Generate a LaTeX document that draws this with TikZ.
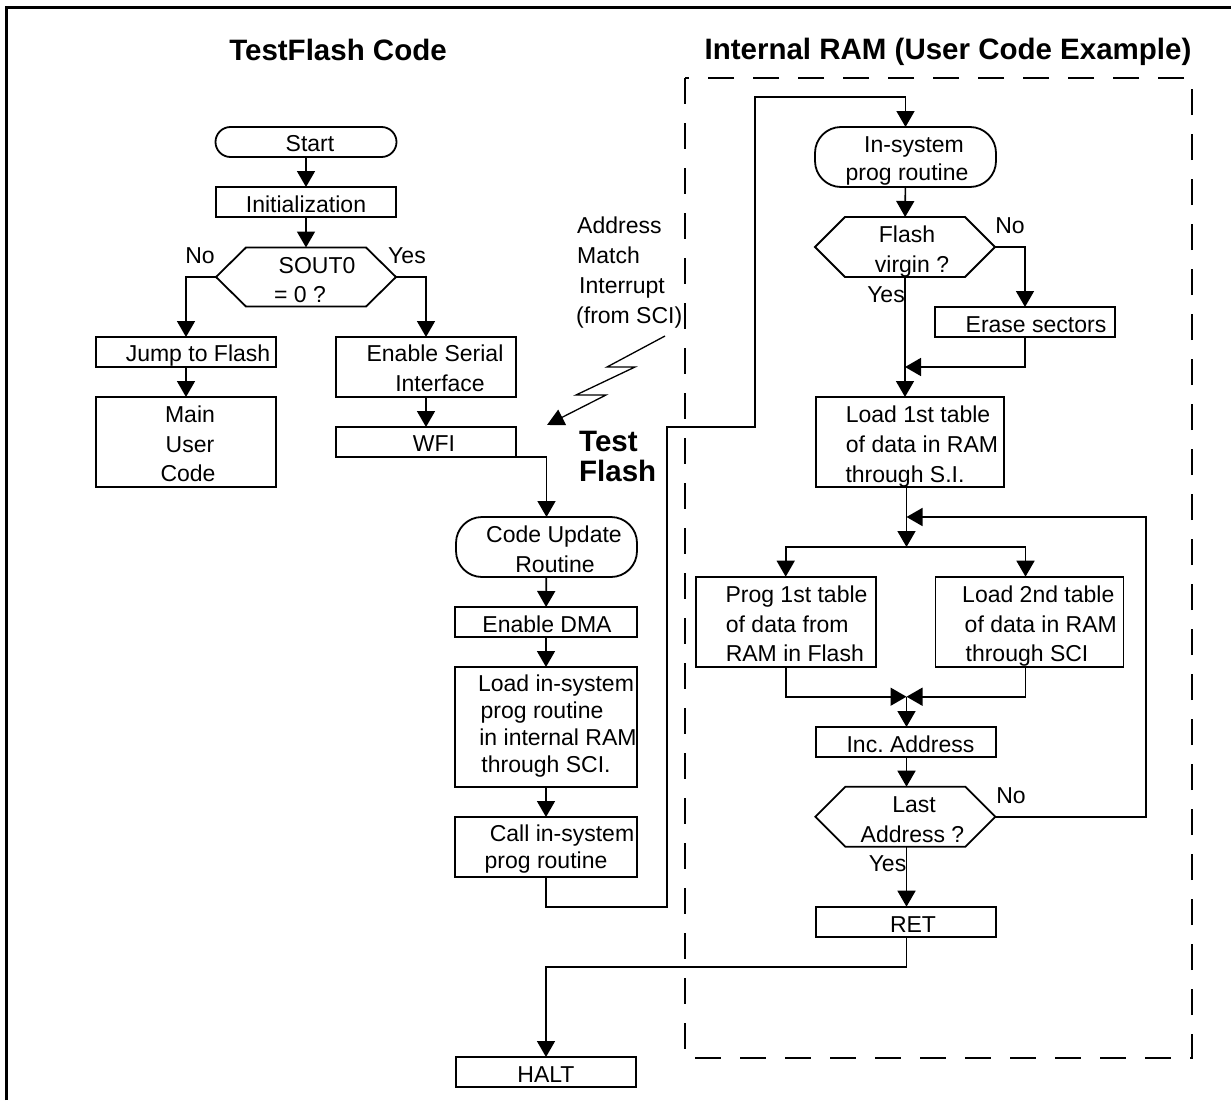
\documentclass[tikz,border=0pt]{standalone}
\usepackage{fontspec}
\setmainfont{Liberation Sans}
\usetikzlibrary{arrows.meta}
\newcommand\hexdraw[1]{\draw[line width=1.8pt] (#1.west) -- ([xshift=30pt]#1.north west) -- ([xshift=-30pt]#1.north east) -- (#1.east) -- ([xshift=-30pt]#1.south east) -- ([xshift=30pt]#1.south west) -- cycle;}
\begin{document}
\begin{tikzpicture}[x=1pt,y=-1pt,
  bx/.style={draw, line width=1.8pt, inner sep=0pt, outer sep=0pt},
  term/.style={bx, rounded corners=#1},
  hx/.style={inner sep=0pt, outer sep=0pt},
  arr/.style={line width=1.6pt, -{Triangle[length=16pt,width=18pt]}},
  bolt/.style={line width=1.3pt, -{Triangle[length=17pt,width=17pt]}},
  t/.style={inner sep=0pt, anchor=base, font=\fontsize{23}{27}\selectfont},
  tl/.style={inner sep=0pt, anchor=base west, font=\fontsize{23}{27}\selectfont},
  ttl/.style={inner sep=0pt, anchor=base, font=\fontsize{29.5}{34}\selectfont\bfseries},
  ttlw/.style={inner sep=0pt, anchor=base west, font=\fontsize{29.5}{34}\selectfont\bfseries}]
\useasboundingbox (0,0) rectangle (1231,1100);
% outer frame
\draw[line width=2.5pt] (6.5,1100) -- (6.5,7.5) -- (1231,7.5);
% dashed region
\draw[line width=2pt, dash pattern=on 26pt off 19pt] (685,78) rectangle (1192,1058);
% titles
\node[ttl] (t1) at (338,60) {TestFlash Code};
\node[ttl] (t2) at (948,59) {Internal RAM (User Code Example)};

% ---------------- left column
\node[term=15pt, minimum width=181, minimum height=30] (start) at (306,142) {};
\node[t] at (310,151) {Start};
\node[bx, minimum width=180, minimum height=30] (init) at (306,202) {};
\node[t] at (306,212) {Initialization};
\node[hx, minimum width=180, minimum height=59] (sout) at (306,277) {};
\hexdraw{sout}
\node[t] at (317,273) {SOUT0};
\node[t] at (300,302) {= 0 ?};
\node[t] at (200,263) {No};
\node[t] at (407,263) {Yes};
\node[bx, minimum width=180, minimum height=30] (jump) at (186,352) {};
\node[t] at (198,361) {Jump to Flash};
\node[bx, minimum width=180, minimum height=90] (main) at (186,442) {};
\node[t] at (190,422) {Main};
\node[t] at (190,452) {User};
\node[t] at (188,481) {Code};
\node[bx, minimum width=180, minimum height=60] (ens) at (426,367) {};
\node[t] at (435,361) {Enable Serial};
\node[t] at (440,391) {Interface};
\node[bx, minimum width=180, minimum height=30] (wfi) at (426,442) {};
\node[t] at (434,451) {WFI};

\draw[arr] (start) -- (init);
\draw[arr] (init) -- (sout);
\draw[arr] (sout.west) -| (jump.north);
\draw[arr] (sout.east) -| (ens.north);
\draw[arr] (jump) -- (main);
\draw[arr] (ens) -- (wfi);

% ---------------- interrupt
\node[tl] at (577,233) {Address};
\node[tl] at (577,263) {Match};
\node[tl] at (579,293) {Interrupt};
\node[tl] at (576,323) {(from SCI)};
\coordinate (bs) at (665,336);
\coordinate (be) at (547,425);
\draw[bolt] (bs) -- (607,367) -- (635,367) -- (576,395) -- (606,395) -- (be);
\node[ttlw] at (579,451) {Test};
\node[ttlw] at (579,481) {Flash};

% ---------------- middle column
\node[term=26pt, minimum width=181, minimum height=60] (cu) at (546.5,547) {};
\node[t] at (554,542) {Code Update};
\node[t] at (555,572) {Routine};
\node[bx, minimum width=182, minimum height=30] (dma) at (546,622) {};
\node[t] at (547,632) {Enable DMA};
\node[bx, minimum width=182, minimum height=120] (lis) at (546,727) {};
\node[t] at (556,691) {Load in-system};
\node[t] at (542,718) {prog routine};
\node[t] at (558,745) {in internal RAM};
\node[t] at (546,772) {through SCI.};
\node[bx, minimum width=182, minimum height=60] (call) at (546,847) {};
\node[t] at (562,841) {Call in-system};
\node[t] at (546,868) {prog routine};
\node[bx, minimum width=180, minimum height=30] (halt) at (546,1072) {};
\node[t] at (546,1082) {HALT};

\draw[arr] (wfi.south east) -| (cu.north);
\draw[arr] (cu) -- (dma);
\draw[arr] (dma) -- (lis);
\draw[arr] (lis) -- (call);

% ---------------- right column
\node[term=26pt, minimum width=181, minimum height=60] (isys) at (905.5,157) {};
\node[t] at (914,152) {In-system};
\node[t] at (907,180) {prog routine};
\node[hx, minimum width=180, minimum height=60] (virg) at (905,247) {};
\hexdraw{virg}
\node[t] at (907,242) {Flash};
\node[t] at (912,272) {virgin ?};
\node[t] at (1010,233) {No};
\node[t] at (886,302) {Yes};
\node[bx, minimum width=180, minimum height=30] (erase) at (1025,322) {};
\node[t] at (1036,332) {Erase sectors};
\node[bx, minimum width=188, minimum height=90] (load1) at (910,442) {};
\node[t] at (918,422) {Load 1st table};
\node[t] at (922,452) {of data in RAM};
\node[t] at (905,482) {through S.I.};
\node[bx, minimum width=180, minimum height=90] (prog) at (785.7,621.7) {};
\node[t] at (796.5,602) {Prog 1st table};
\node[t] at (787.3,632) {of data from};
\node[t] at (794.8,661) {RAM in Flash};
\node[bx, minimum width=188, minimum height=90] (load2) at (1029.5,621.7) {};
\node[t] at (1038.3,602) {Load 2nd table};
\node[t] at (1040.8,632) {of data in RAM};
\node[t] at (1027,661) {through SCI};
\node[bx, minimum width=180, minimum height=30] (inc) at (906,742) {};
\node[t] at (910.5,752) {Inc.\ Address};
\node[hx, minimum width=180, minimum height=60] (last) at (905.4,816.7) {};
\hexdraw{last}
\node[t] at (914,812) {Last};
\node[t] at (912.5,842) {Address ?};
\node[t] at (1011,803) {No};
\node[t] at (887.5,871) {Yes};
\node[bx, minimum width=180, minimum height=30] (ret) at (906,921.7) {};
\node[t] at (913,932) {RET};

\coordinate (j1) at (905,367);
\coordinate (j2) at (906.5,517);
\coordinate (split) at (906.5,547);
\coordinate (mrg) at (906.5,696.7);

\draw[arr] (call.south) -- (546,907) -| (667,427) -| (755,97) -| (isys.north);
\draw[arr] (isys) -- (virg);
\draw[arr] (virg.east) -| (erase.north);
\draw[arr] (virg.south) -- (virg.south |- load1.north);
\draw[arr] (erase.south) |- (j1);
\draw[arr] (j2 |- load1.south) -- (split);
\draw[arr] (split) -| (prog.north);
\draw[arr] (split) -| ([xshift=-4pt]load2.north);
\draw[arr] (prog.south) |- (mrg);
\draw[arr] ([xshift=-4pt]load2.south) |- (mrg);
\draw[arr] (mrg) -- (mrg |- inc.north);
\draw[arr] (inc.south -| mrg) -- (mrg |- last.north);
\draw[arr] (last.east) -- (1146,816.7) |- (j2);
\draw[arr] (last.south -| mrg) -- (mrg |- ret.north);
\draw[arr] (ret.south -| mrg) -- (906.5,967) -| (halt.north);
\end{tikzpicture}
\end{document}
